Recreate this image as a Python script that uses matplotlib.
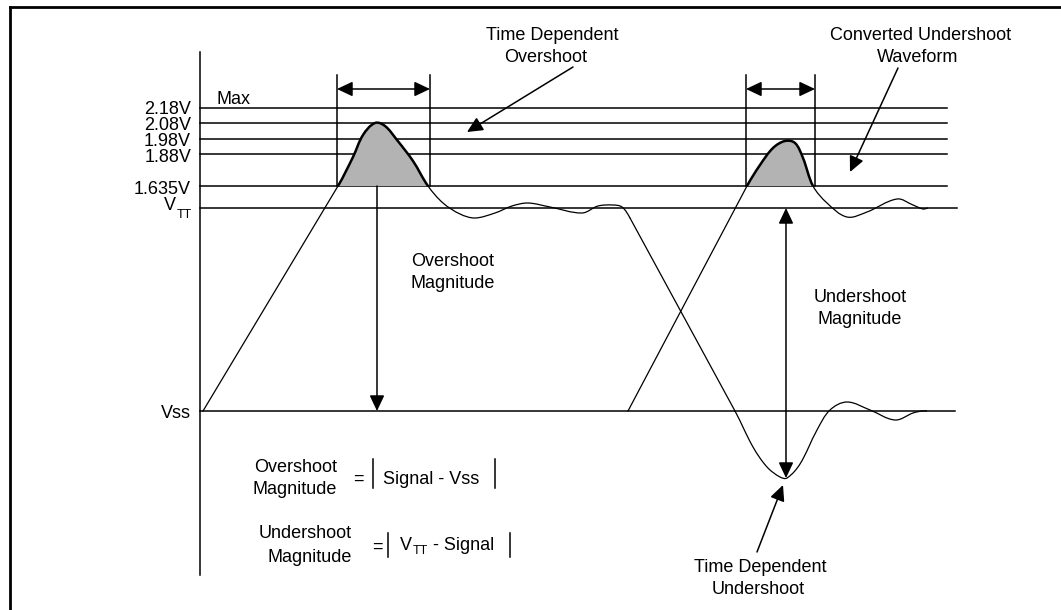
import numpy as np
import matplotlib.pyplot as plt
from matplotlib.path import Path
from matplotlib.patches import PathPatch, FancyArrowPatch

plt.rcParams['font.family'] = ['Liberation Sans', 'DejaVu Sans']

# ---------------- data (pixel space of the drawing) ----------------
W, H = 1061, 610
axis_x = 200

level_labels = ['2.18V', '2.08V', '1.98V', '1.88V', '1.635V']
level_y = [108, 123, 139, 154, 186]
level_label_y = [107, 123, 140, 156, 187]
level_end = 947
vtt_y, vtt_end = 208, 957
vss_y, vss_end = 411, 955

# waveform 1 : rising edge -> overshoot -> ringing -> falling edge -> undershoot
w1_rise = [(203, 411), (338, 186)]
w1_hump = [(338, 186), (353, 157), (363, 135), (375, 123), (385, 126),
           (397, 140), (413, 161), (428, 186)]
w1_ring = [(428, 186), (443, 203), (460, 214), (475, 218), (495, 213),
           (512, 206), (528, 203), (550, 207), (582, 213), (598, 206),
           (613, 205), (622, 207), (630, 218)]
w1_fall = [(630, 218), (735, 411)]
w1_under = [(735, 411), (753, 447), (767, 467), (780, 477), (787, 478),
            (800, 464), (817, 430), (830, 410), (847, 402), (870, 410),
            (895, 420), (913, 413), (922, 411), (927, 411)]

# waveform 2 : converted undershoot
w2_rise = [(628, 411), (747, 186)]
w2_hump = [(747, 186), (760, 165), (773, 148), (785, 141), (795, 143),
           (803, 158), (813, 186)]
w2_ring = [(813, 186), (827, 203), (847, 217), (867, 212), (897, 199),
           (913, 205), (923, 209), (928, 208)]


def smooth_path(pts, before=None, after=None, close_to_base=False):
    pts = np.asarray(pts, float)
    n = len(pts)
    verts = [pts[0]]
    codes = [Path.MOVETO]
    for i in range(n - 1):
        if i > 0:
            p0 = pts[i - 1]
        else:
            p0 = np.asarray(before, float) if before is not None else pts[0]
        p1, p2 = pts[i], pts[i + 1]
        if i + 2 < n:
            p3 = pts[i + 2]
        else:
            p3 = np.asarray(after, float) if after is not None else pts[-1]
        # tangents scaled so end points of neighbours far away do not overshoot
        t1 = (p2 - p0) / np.linalg.norm(p2 - p0) * np.linalg.norm(p2 - p1)
        t2 = (p3 - p1) / np.linalg.norm(p3 - p1) * np.linalg.norm(p2 - p1)
        verts += [p1 + t1 / 3, p2 - t2 / 3, p2]
        codes += [Path.CURVE4] * 3
    if close_to_base:
        verts += [pts[0], pts[0]]
        codes += [Path.LINETO, Path.CLOSEPOLY]
    return Path(verts, codes)


fig = plt.figure(figsize=(W / 100, H / 100), dpi=100)
ax = fig.add_axes([0, 0, 1, 1])
ax.set_xlim(0, W)
ax.set_ylim(H, 0)
ax.axis('off')

LW = 1.1
FS = 13

# frame (left + top only)
ax.plot([9.5, 9.5], [H, 7], color='black', lw=2.0, solid_capstyle='projecting')
ax.plot([9.5, W], [7, 7], color='black', lw=2.0, solid_capstyle='projecting')

# vertical axis
ax.plot([axis_x, axis_x], [52, 575], color='black', lw=LW)

# level lines
for y in level_y:
    ax.plot([axis_x, level_end], [y, y], color='black', lw=LW)
ax.plot([axis_x, vtt_end], [vtt_y, vtt_y], color='black', lw=LW)
ax.plot([axis_x, vss_end], [vss_y, vss_y], color='black', lw=LW)


def txt(x, yc, s, ha='left', size=FS):
    # yc = vertical centre of capital letters
    ax.text(x, yc + 0.36 * size * 100 / 72, s, ha=ha, va='baseline',
            fontsize=size, color='black')


for lab, y in zip(level_labels, level_label_y):
    txt(191, y, lab, ha='right')
txt(176, 203, 'V', ha='right')
txt(177, 213, 'TT', size=9)
txt(191, vss_y, 'Vss', ha='right')
txt(217, 97, 'Max')

# shaded humps
for hump, before, after in [(w1_hump, w1_rise[0], w1_ring[1]),
                            (w2_hump, w2_rise[0], w2_ring[1])]:
    ax.add_patch(PathPatch(smooth_path(hump, before, after, close_to_base=True),
                           facecolor='#b3b3b3', edgecolor='none', zorder=2))
    ax.add_patch(PathPatch(smooth_path(hump, before, after), facecolor='none',
                           edgecolor='black', lw=1.8, zorder=3))

# waveform lines
wl = 0.9
ax.plot(*zip(*w1_rise), color='black', lw=wl)
ax.plot(*zip(*w1_fall), color='black', lw=wl)
ax.plot(*zip(*w2_rise), color='black', lw=wl)
ax.add_patch(PathPatch(smooth_path(w1_ring, w1_hump[-2], w1_fall[1]),
                       facecolor='none', edgecolor='black', lw=wl))
ax.add_patch(PathPatch(smooth_path(w1_under, w1_fall[0]),
                       facecolor='none', edgecolor='black', lw=wl))
ax.add_patch(PathPatch(smooth_path(w2_ring, w2_hump[-2]),
                       facecolor='none', edgecolor='black', lw=wl))


def arrow(p0, p1, style='-|>'):
    ax.add_patch(FancyArrowPatch(p0, p1,
                                 arrowstyle=style + ',head_length=0.95,head_width=0.45',
                                 mutation_scale=10, lw=LW, color='black',
                                 shrinkA=0, shrinkB=0, zorder=4))


# time brackets
for xa, xb in [(337, 430), (746, 815)]:
    ax.plot([xa, xa], [75, 186], color='black', lw=LW)
    ax.plot([xb, xb], [75, 186], color='black', lw=LW)
    arrow((xa, 89), (xb, 89), '<|-|>')

# magnitude arrows
arrow((377, 186), (377, vss_y))
arrow((786, vtt_y), (786, 478), '<|-|>')

# callout arrows
arrow((573, 67), (467, 132))
arrow((898, 68), (850, 172))
arrow((757, 552), (783, 485))

# callout texts
txt(552, 33, 'Time Dependent', ha='center')
txt(546, 55, 'Overshoot', ha='center')
txt(921, 33, 'Converted Undershoot', ha='center')
txt(918, 55, 'Waveform', ha='center')
txt(760, 566, 'Time Dependent', ha='center')
txt(758, 588, 'Undershoot', ha='center')

txt(411, 259, 'Overshoot')
txt(411, 282, 'Magnitude')
txt(860, 295, 'Undershoot', ha='center')
txt(860, 317, 'Magnitude', ha='center')

# formulas
txt(337, 465, 'Overshoot', ha='right')
txt(337, 487, 'Magnitude', ha='right')
txt(358, 477, '=', ha='center')
ax.plot([373, 373], [459, 488], color='black', lw=LW)
txt(383, 477, 'Signal - Vss')
ax.plot([495, 495], [459, 488], color='black', lw=LW)

txt(352, 532, 'Undershoot', ha='right')
txt(352, 555, 'Magnitude', ha='right')
txt(377, 545, '=', ha='center')
ax.plot([388, 388], [533, 557], color='black', lw=LW)
txt(400, 544, 'V')
txt(413, 550, 'TT', size=9)
txt(433, 544, '- Signal')
ax.plot([510, 510], [533, 557], color='black', lw=LW)

fig.savefig('out.png', dpi=100)
